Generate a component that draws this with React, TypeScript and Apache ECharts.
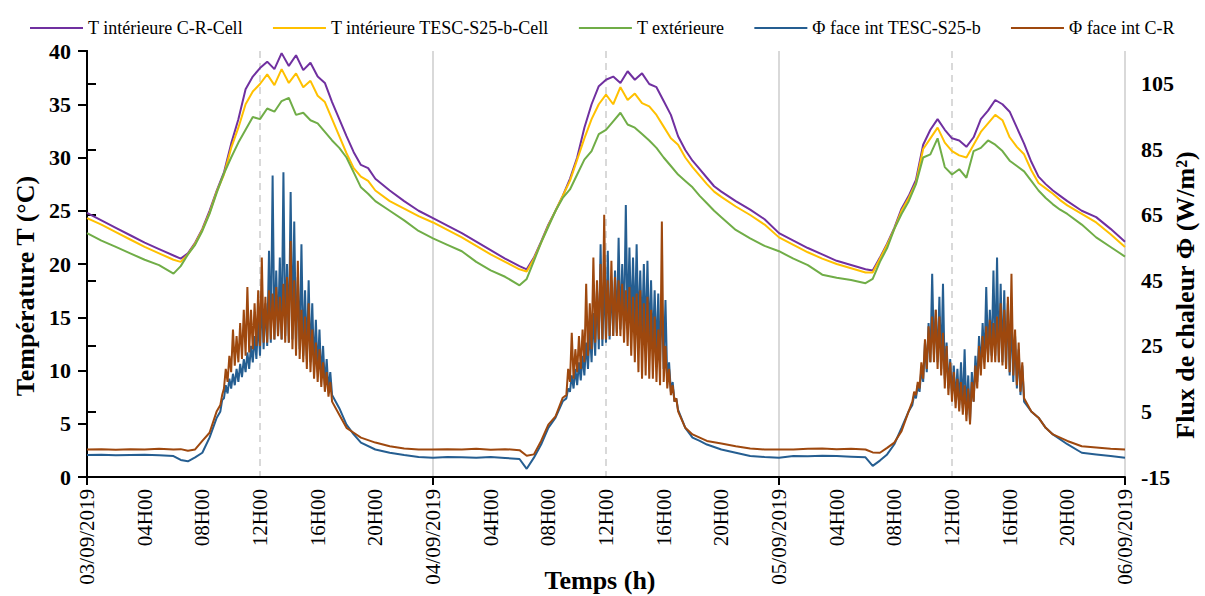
import React, { useEffect, useRef } from "react";
import * as echarts from "echarts";

// ---- time stamps (hours since 03/09/2019 00H00) ----
const tempHours = [
  0, 1, 2, 3, 4, 5, 6, 6.5, 7, 7.5, 8, 8.5, 9, 9.5, 10, 10.5, 11, 11.5, 12, 12.5, 13, 13.5, 14, 14.5, 15, 15.5, 16, 16.5, 17, 17.5, 18, 18.5, 19, 19.5, 20, 21, 22, 23,
  24, 25, 26, 27, 28, 29, 30, 30.5, 31, 31.5, 32, 32.5, 33, 33.5, 34, 34.5, 35, 35.5, 36, 36.5, 37, 37.5, 38, 38.5, 39, 39.5, 40, 40.5, 41, 41.5, 42, 42.5, 43, 43.5, 44, 45, 46, 47,
  48, 49, 50, 51, 52, 53, 54, 54.5, 55, 55.5, 56, 56.5, 57, 57.5, 58, 58.5, 59, 59.5, 60, 60.5, 61, 61.5, 62, 62.5, 63, 63.5, 64, 64.5, 65, 65.5, 66, 66.5, 67, 67.5, 68, 69, 70, 71,
  72,
];

// T intérieure C-R-Cell (°C)
const tIntCR = [
  24.8, 24.1, 23.4, 22.7, 22.0, 21.4, 20.8, 20.5, 21.0, 22.0, 23.3, 25.0, 26.9, 28.6, 31.3, 33.6, 36.4, 37.6, 38.4, 39.0, 38.3, 39.8, 38.6, 39.6, 38.2, 38.9, 37.6, 37.0, 35.2, 33.6, 32.0, 30.5, 29.3, 29.0, 28.0, 26.9, 25.9, 25.0,
  24.3, 23.6, 22.9, 22.1, 21.3, 20.5, 19.8, 19.5, 20.6, 22.1, 23.7, 25.0, 26.4, 28.0, 30.0, 32.8, 35.0, 36.7, 37.3, 37.6, 37.0, 38.1, 37.3, 37.9, 36.9, 36.6, 35.3, 34.0, 32.0, 30.7, 29.7, 28.9, 28.1, 27.3, 26.8, 25.9, 25.1, 24.2,
  22.9, 22.2, 21.5, 20.9, 20.3, 19.9, 19.5, 19.4, 20.6, 21.9, 23.4, 25.2, 26.4, 27.9, 31.2, 32.6, 33.6, 32.6, 31.8, 31.6, 31.0, 31.9, 33.6, 34.4, 35.4, 35.0, 34.3, 32.8, 31.3, 29.6, 28.2, 27.5, 26.9, 26.4, 25.9, 25.0, 24.4, 23.3,
  22.1,
];

// T intérieure TESC-S25-b-Cell (°C)
const tIntTESC = [
  24.3, 23.7, 23.0, 22.3, 21.6, 21.0, 20.4, 20.2, 20.9, 21.9, 23.2, 24.8, 26.8, 28.4, 30.9, 32.8, 35.0, 36.2, 36.9, 37.8, 36.8, 38.3, 37.0, 37.9, 36.6, 37.2, 35.8, 35.2, 33.6, 32.0, 30.4, 29.0, 28.2, 27.8, 26.9, 25.9, 25.2, 24.5,
  23.9, 23.2, 22.5, 21.7, 20.9, 20.2, 19.5, 19.3, 20.5, 22.0, 23.6, 25.0, 26.4, 27.8, 29.8, 31.8, 33.6, 35.0, 35.9, 35.0, 36.6, 35.4, 36.0, 35.1, 34.8, 34.0, 32.9, 31.8, 31.2, 30.0, 29.1, 28.3, 27.5, 26.8, 26.3, 25.4, 24.6, 23.7,
  22.5, 21.8, 21.1, 20.5, 20.0, 19.6, 19.2, 19.2, 20.5, 21.8, 23.3, 25.0, 26.2, 27.6, 30.8, 31.8, 32.8, 31.4, 30.6, 30.2, 30.0, 31.2, 32.4, 33.2, 34.0, 33.5, 31.9, 31.0, 30.3, 28.8, 27.6, 27.1, 26.6, 26.0, 25.5, 24.7, 23.9, 22.8,
  21.6,
];

// T extérieure (°C)
const tExt = [
  22.9, 22.2, 21.6, 21.0, 20.4, 19.9, 19.1, 19.8, 20.9, 21.8, 23.1, 24.7, 26.7, 28.5, 30.0, 31.4, 32.6, 33.8, 33.6, 34.6, 34.3, 35.3, 35.6, 34.0, 34.2, 33.5, 33.2, 32.4, 31.6, 30.9, 30.0, 28.6, 27.2, 26.6, 25.9, 25.0, 24.1, 23.1,
  22.4, 21.8, 21.2, 20.2, 19.4, 18.8, 18.0, 18.6, 20.3, 22.0, 23.5, 25.0, 26.2, 27.0, 28.4, 29.8, 30.6, 32.2, 32.6, 33.4, 34.2, 33.1, 32.8, 32.2, 31.6, 30.9, 30.0, 29.2, 28.4, 27.8, 27.2, 26.4, 25.7, 25.0, 24.4, 23.2, 22.4, 21.7,
  21.2, 20.5, 19.9, 19.0, 18.7, 18.5, 18.2, 18.6, 20.2, 21.5, 23.3, 24.7, 25.9, 27.5, 30.0, 30.3, 31.8, 29.1, 28.4, 28.9, 28.1, 30.6, 30.9, 31.6, 31.2, 30.6, 29.7, 29.2, 28.7, 27.8, 26.9, 26.2, 25.6, 25.1, 24.7, 23.7, 22.5, 21.6,
  20.7,
];

const fluxHours = [
  0, 1, 2, 3, 4, 5, 6, 6.5, 7, 7.5, 8, 8.5, 9,
  9.25, 9.375, 9.5, 9.625, 9.75, 9.875,
  10, 10.125, 10.25, 10.375, 10.5, 10.625, 10.75, 10.875,
  11, 11.125, 11.25, 11.375, 11.5, 11.625, 11.75, 11.875,
  12, 12.125, 12.25, 12.375, 12.5, 12.625, 12.75, 12.875,
  13, 13.125, 13.25, 13.375, 13.5, 13.625, 13.75, 13.875,
  14, 14.125, 14.25, 14.375, 14.5, 14.625, 14.75, 14.875,
  15, 15.125, 15.25, 15.375, 15.5, 15.625, 15.75, 15.875,
  16, 16.125, 16.25, 16.375, 16.5, 16.625, 16.75, 16.875,
  17, 17.5, 18, 18.5, 19, 20, 21, 22, 23,
  24, 25, 26, 27, 28, 29, 30, 30.5, 31, 31.5, 32, 32.5, 33,
  33.25, 33.375, 33.5, 33.625, 33.75, 33.875,
  34, 34.125, 34.25, 34.375, 34.5, 34.625, 34.75, 34.875,
  35, 35.125, 35.25, 35.375, 35.5, 35.625, 35.75, 35.875,
  36, 36.125, 36.25, 36.375, 36.5, 36.625, 36.75, 36.875,
  37, 37.125, 37.25, 37.375, 37.5, 37.625, 37.75, 37.875,
  38, 38.125, 38.25, 38.375, 38.5, 38.625, 38.75, 38.875,
  39, 39.125, 39.25, 39.375, 39.5, 39.625, 39.75, 39.875,
  40, 40.125, 40.25, 40.375, 40.5, 40.625, 40.75, 40.875,
  41, 41.5, 42, 42.5, 43, 44, 45, 46, 47,
  48, 49, 50, 51, 52, 53, 54, 54.5, 55, 55.5, 56, 56.5, 57,
  57.25, 57.375, 57.5, 57.625, 57.75, 57.875,
  58, 58.125, 58.25, 58.375, 58.5, 58.625, 58.75, 58.875,
  59, 59.125, 59.25, 59.375, 59.5, 59.625, 59.75, 59.875,
  60, 60.125, 60.25, 60.375, 60.5, 60.625, 60.75, 60.875,
  61, 61.125, 61.25, 61.375, 61.5, 61.625, 61.75, 61.875,
  62, 62.125, 62.25, 62.375, 62.5, 62.625, 62.75, 62.875,
  63, 63.125, 63.25, 63.375, 63.5, 63.625, 63.75, 63.875,
  64, 64.125, 64.25, 64.375, 64.5, 64.625, 64.75, 64.875,
  65, 65.5, 66, 66.5, 67, 68, 69, 70, 71,
  72,
];

// Φ face int TESC-S25-b (W/m²)
const fluxTESC = [
  -8.3, -8.2, -8.4, -8.3, -8.2, -8.4, -8.6, -9.8, -10.2, -9.0, -7.6, -3.0, 3.1,
  5.0, 8.5, 9.0, 13.0, 10.5, 15.0,
  12.0, 16.5, 13.0, 18.0, 14.0, 19.5, 15.5, 21.0,
  17.0, 23.0, 18.0, 25.0, 20.0, 28.0, 21.0, 33.0,
  22.0, 40.0, 24.0, 38.0, 25.0, 54.0, 26.0, 77.0,
  27.0, 48.0, 28.0, 52.0, 27.0, 78.0, 28.0, 50.0,
  26.0, 72.0, 27.0, 63.0, 25.0, 46.0, 24.0, 56.0,
  22.0, 42.0, 21.0, 45.0, 20.0, 38.0, 18.0, 33.0,
  17.0, 30.0, 15.0, 25.0, 13.0, 21.0, 11.5, 17.0,
  10.0, 6.0, 1.0, -2.0, -4.5, -6.6, -7.6, -8.3, -8.9,
  -9.1, -8.9, -9.0, -9.1, -8.9, -9.2, -9.5, -12.5, -9.1, -5.1, 0.0, 3.1, 8.1,
  9.0, 12.0, 11.0, 16.0, 12.0, 18.0,
  13.0, 20.0, 14.5, 22.0, 16.0, 26.0, 18.0, 30.0,
  20.0, 35.0, 22.0, 42.0, 24.0, 56.0, 25.0, 46.0,
  26.0, 54.0, 27.0, 45.0, 28.0, 48.0, 29.0, 58.0,
  30.0, 50.0, 30.0, 68.0, 30.0, 55.0, 31.0, 52.0,
  30.0, 56.0, 29.0, 48.0, 28.0, 50.0, 27.0, 51.0,
  26.0, 45.0, 24.0, 42.0, 22.0, 41.0, 20.0, 40.0,
  18.0, 39.0, 14.0, 20.0, 11.0, 14.0, 8.0, 9.0,
  5.5, 0.0, -3.0, -4.0, -5.1, -6.6, -7.6, -8.6, -8.9,
  -9.1, -8.6, -8.7, -8.5, -8.6, -8.8, -9.0, -11.6, -10.0, -8.1, -5.0, 0.0, 5.1,
  7.0, 10.0, 9.0, 13.0, 11.0, 18.0,
  14.0, 26.0, 17.0, 32.0, 20.0, 47.0, 22.0, 36.0,
  20.0, 40.0, 18.0, 44.0, 15.0, 26.0, 12.0, 21.0,
  10.0, 19.0, 8.0, 18.0, 7.0, 20.0, 6.0, 24.0,
  4.0, 16.0, 2.0, 17.0, 8.0, 22.0, 14.0, 28.0,
  18.0, 32.0, 20.0, 43.0, 22.0, 36.0, 22.0, 48.0,
  22.0, 52.0, 20.0, 44.0, 20.0, 42.0, 18.0, 38.0,
  16.0, 34.0, 14.0, 28.0, 12.0, 24.0, 10.0, 19.0,
  8.0, 5.0, 3.1, 0.0, -2.0, -5.0, -7.6, -8.1, -8.6,
  -9.1,
];

// Φ face int C-R (W/m²)
const fluxCR = [
  -6.6, -6.5, -6.7, -6.5, -6.6, -6.4, -6.6, -6.5, -7.0, -6.6, -4.0, -1.5, 5.1,
  7.0, 10.0, 12.0, 18.0, 14.0, 22.0,
  17.0, 30.0, 19.0, 28.0, 20.0, 32.0, 21.0, 36.0,
  22.0, 43.0, 23.0, 36.0, 24.0, 38.0, 25.0, 42.0,
  25.0, 52.0, 26.0, 40.0, 26.0, 42.0, 27.0, 41.0,
  27.0, 43.0, 28.0, 40.0, 27.0, 44.0, 26.0, 46.0,
  26.0, 57.0, 24.0, 45.0, 22.0, 51.0, 21.0, 36.0,
  20.0, 34.0, 18.0, 38.0, 17.0, 30.0, 15.0, 26.0,
  14.0, 24.0, 12.5, 20.0, 11.0, 17.0, 9.5, 14.0,
  8.0, 4.0, 0.0, -1.5, -3.0, -4.5, -5.6, -6.3, -6.6,
  -6.6, -6.5, -6.6, -6.4, -6.7, -6.5, -6.8, -8.5, -8.1, -4.0, 1.0, 3.5, 9.2,
  10.0, 18.0, 14.0, 29.0, 15.0, 24.0,
  17.0, 28.0, 18.0, 30.0, 20.0, 44.0, 22.0, 38.0,
  24.0, 52.0, 26.0, 45.0, 27.0, 50.0, 27.0, 65.0,
  27.0, 45.0, 28.0, 51.0, 28.0, 46.0, 28.0, 45.0,
  28.0, 44.0, 26.0, 42.0, 25.0, 43.0, 22.0, 40.0,
  20.0, 41.0, 17.0, 42.0, 15.0, 38.0, 16.0, 40.0,
  15.0, 36.0, 15.0, 34.0, 14.0, 30.0, 13.0, 63.0,
  14.0, 25.0, 12.0, 18.0, 10.0, 13.0, 8.0, 9.0,
  5.0, 0.0, -2.0, -3.0, -4.0, -4.8, -5.6, -6.3, -6.6,
  -6.6, -6.6, -6.4, -6.3, -6.5, -6.4, -6.6, -7.5, -7.6, -6.1, -4.5, -1.0, 5.1,
  8.0, 11.0, 10.0, 14.0, 12.0, 20.0,
  15.0, 27.0, 18.0, 31.0, 20.0, 34.0, 20.0, 36.0,
  18.0, 34.0, 16.0, 29.0, 12.0, 25.0, 10.0, 20.0,
  8.0, 17.0, 6.0, 15.0, 5.0, 14.0, 4.0, 13.0,
  2.0, 12.0, 1.0, 14.0, 8.0, 19.0, 12.0, 25.0,
  16.0, 28.0, 18.0, 31.0, 20.0, 33.0, 20.0, 32.0,
  20.0, 34.0, 20.0, 38.0, 19.0, 36.0, 18.0, 40.0,
  17.0, 47.0, 16.0, 30.0, 13.0, 26.0, 11.0, 20.0,
  9.0, 5.0, 3.1, 0.0, -2.0, -4.0, -5.6, -6.0, -6.4,
  -6.6,
];

const seriesNames = [
  "T intérieure C-R-Cell",
  "T intérieure TESC-S25-b-Cell",
  "T extérieure",
  "Φ face int TESC-S25-b",
  "Φ face int C-R",
];
const seriesColors = ["#7030A0", "#FFC000", "#70AD47", "#255E91", "#9E480E"];

const xTickLabels = [
  "03/09/2019", "04H00", "08H00", "12H00", "16H00", "20H00",
  "04/09/2019", "04H00", "08H00", "12H00", "16H00", "20H00",
  "05/09/2019", "04H00", "08H00", "12H00", "16H00", "20H00",
  "06/09/2019",
];
const dayTicks = [0, 24, 48, 72];
const rightTicks = [-15, 5, 25, 45, 65, 85, 105];

const leftTitle = "Température T (°C)";
const rightTitle = "Flux de chaleur Φ (W/m²)";
const bottomTitle = "Temps (h)";

const SERIF = "Liberation Serif";

export default function App() {
  const ref = useRef<HTMLDivElement>(null);

  useEffect(() => {
    if (!ref.current) return;
    const chart = echarts.init(ref.current, null, { renderer: "svg" });
    const pair = (xs: number[], ys: number[]) => xs.map((x, i) => [x, ys[i]]);
    const valueSets = [
      pair(tempHours, tIntCR),
      pair(tempHours, tIntTESC),
      pair(tempHours, tExt),
      pair(fluxHours, fluxTESC),
      pair(fluxHours, fluxCR),
    ];
    const blackLine = { color: "#000", width: 2 };

    chart.setOption({
      animation: false,
      grid: { left: 87, right: 80, top: 51, bottom: 119 },
      legend: {
        data: seriesNames,
        left: 25,
        top: 14,
        icon: "rect",
        itemWidth: 53,
        itemHeight: 2,
        itemGap: 30,
        textStyle: { fontFamily: SERIF, fontSize: 18, color: "#000" },
      },
      xAxis: [
        {
          type: "value",
          min: 0,
          max: 72,
          interval: 4,
          axisLine: { show: true, lineStyle: blackLine },
          axisTick: { show: true, customValues: dayTicks, length: 8, lineStyle: blackLine },
          axisLabel: {
            rotate: 90,
            fontFamily: SERIF,
            fontSize: 21,
            color: "#000",
            margin: 12,
            formatter: (v: number) => xTickLabels[Math.round(v / 4)] ?? "",
          },
          splitLine: { show: false },
        },
        {
          type: "value",
          min: 0,
          max: 72,
          interval: 12,
          position: "bottom",
          axisLine: { show: false },
          axisTick: { show: false },
          axisLabel: { show: false },
          splitLine: { show: true, lineStyle: { color: "#D9D9D9", width: 2, type: [7, 5] } },
        },
        {
          type: "value",
          min: 0,
          max: 72,
          interval: 24,
          position: "bottom",
          axisLine: { show: false },
          axisTick: { show: false },
          axisLabel: { show: false },
          splitLine: { show: true, lineStyle: { color: "#D9D9D9", width: 2, type: "solid" } },
        },
      ],
      yAxis: [
        {
          type: "value",
          min: 0,
          max: 40,
          interval: 5,
          position: "left",
          axisLine: { show: true, lineStyle: blackLine },
          axisTick: { show: true, length: 9, lineStyle: blackLine },
          axisLabel: { fontFamily: SERIF, fontWeight: "bold", fontSize: 22, color: "#000", margin: 16 },
          splitLine: { show: false },
        },
        {
          type: "value",
          min: -15,
          max: 115,
          interval: 20,
          position: "right",
          axisLine: { show: true, lineStyle: blackLine },
          axisTick: { show: true, length: 9, customValues: rightTicks, lineStyle: blackLine },
          axisLabel: {
            fontFamily: SERIF,
            fontWeight: "bold",
            fontSize: 22,
            color: "#000",
            margin: 16,
            customValues: rightTicks,
          },
          splitLine: { show: false },
        },
      ],
      graphic: [
        {
          type: "text",
          x: 25,
          y: 286,
          rotation: Math.PI / 2,
          style: {
            text: leftTitle,
            fontFamily: SERIF,
            fontWeight: "bold",
            fontSize: 26,
            fill: "#000",
            align: "center",
            verticalAlign: "middle",
          },
        },
        {
          type: "text",
          x: 1185,
          y: 295,
          rotation: Math.PI / 2,
          style: {
            text: rightTitle,
            fontFamily: SERIF,
            fontWeight: "bold",
            fontSize: 26,
            fill: "#000",
            align: "center",
            verticalAlign: "middle",
          },
        },
        {
          type: "text",
          x: 600,
          y: 580,
          style: {
            text: bottomTitle,
            fontFamily: SERIF,
            fontWeight: "bold",
            fontSize: 26,
            fill: "#000",
            align: "center",
            verticalAlign: "middle",
          },
        },
      ],
      series: seriesNames.map((name, i) => ({
        type: "line",
        name,
        yAxisIndex: i < 3 ? 0 : 1,
        data: valueSets[i],
        symbol: "none",
        color: seriesColors[i],
        lineStyle: { color: seriesColors[i], width: 2 },
      })),
    });
    return () => chart.dispose();
  }, []);

  return (
    <div
      ref={ref}
      style={{ position: "fixed", left: 0, top: 0, width: 1205, height: 596, background: "#fff" }}
    />
  );
}
